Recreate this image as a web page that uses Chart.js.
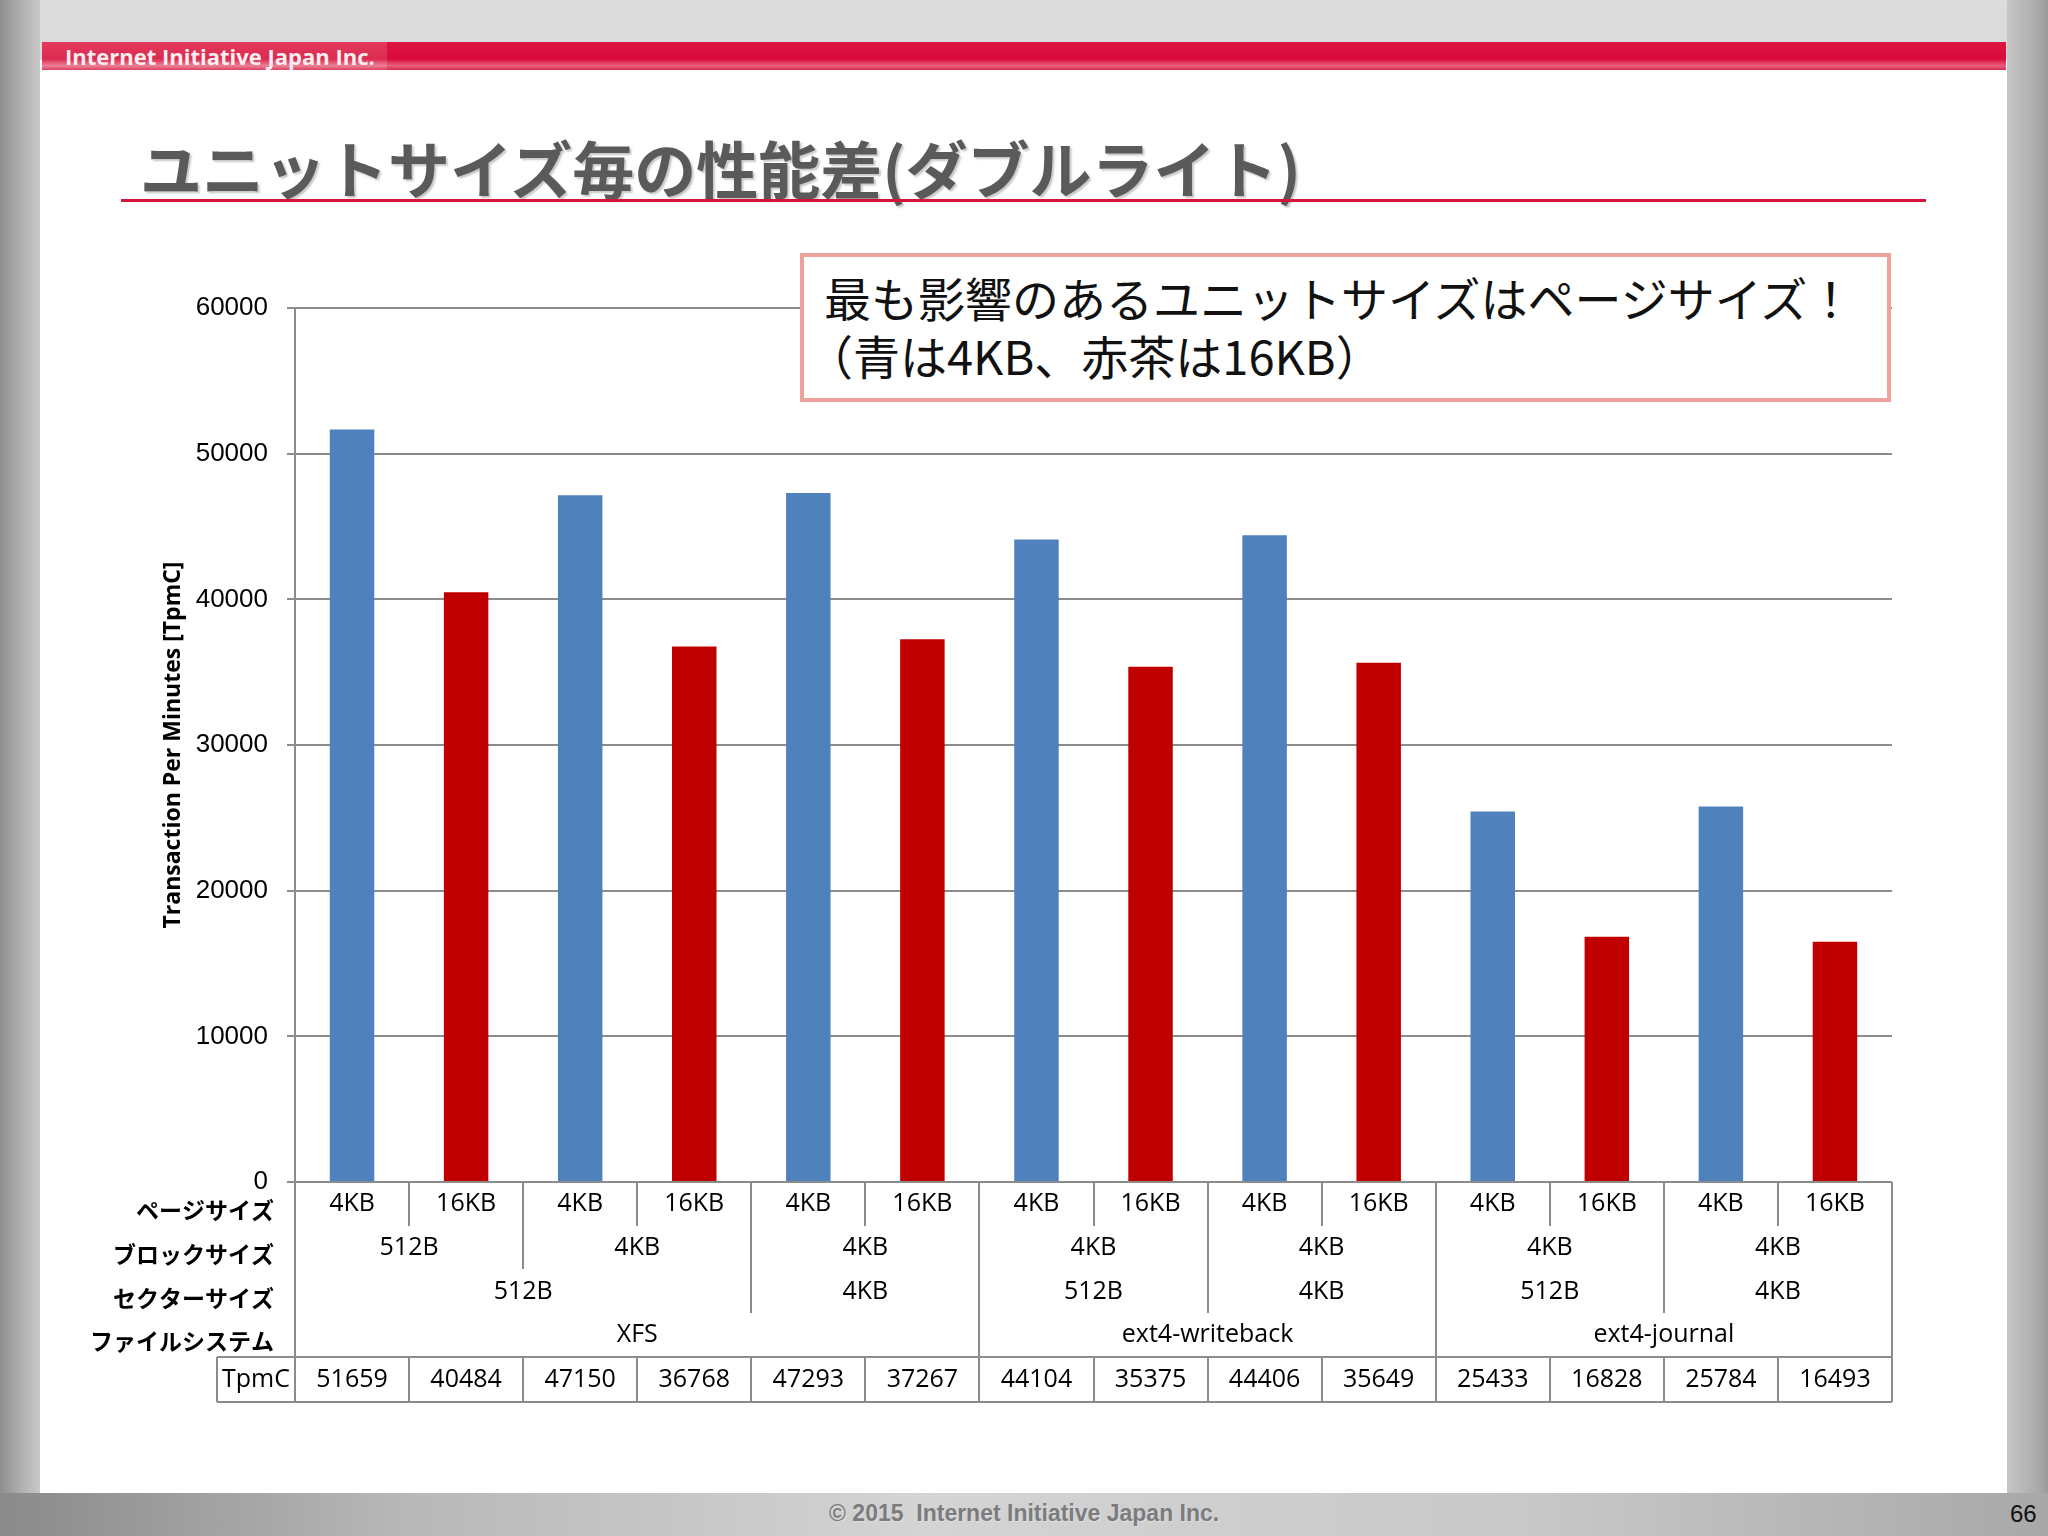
<!DOCTYPE html>
<html>
<head>
<meta charset="utf-8">
<script src="https://cdn.jsdelivr.net/npm/chart.js@4.4.1/dist/chart.umd.min.js"></script>
<style>
  html, body { margin: 0; padding: 0; }
  body {
    width: 2048px; height: 1536px; position: relative; overflow: hidden;
    background: linear-gradient(180deg, #dcdcdc 0%, #cfcfcf 40%, #c4c4c4 100%);
    font-family: "Noto Sans CJK JP", sans-serif;
  }
  #leftBand { position: absolute; left: 0; top: 0; width: 40px; height: 1536px;
    background: linear-gradient(90deg, #8e8e8e 0%, #b4b4b4 60%, #c8c8c8 100%); }
  #rightBand { position: absolute; left: 2007px; top: 0; width: 41px; height: 1536px;
    background: linear-gradient(90deg, #c6c6c6 0%, #adadad 70%, #9a9a9a 100%); }
  #bottomBand { position: absolute; left: 0; top: 1493px; width: 2048px; height: 43px;
    background: linear-gradient(90deg, #8a8a8a 0%, #b8b8b8 20%, #d4d4d4 45%, #c8c8c8 75%, #a8a8a8 100%); }
  #slide { position: absolute; left: 40px; top: 60px; width: 1967px; height: 1433px; background: #fff; }
  #header { position: absolute; left: 42px; top: 42px; width: 1964px; height: 28px;
    background: linear-gradient(180deg, #dd1442 0%, #d90a3c 60%, #e8607c 85%, #d82a4c 100%); }
  #headerTag { position: absolute; left: 42px; top: 42px; width: 345px; height: 28px;
    background: linear-gradient(180deg, #e23a5c 0%, #dc2a50 60%, #ec8096 85%, #dc4060 100%); }
  #headerText { position: absolute; left: 65px; top: 42px; height: 28px; line-height: 28px;
    font-family: "Open Sans", sans-serif; font-weight: 700; font-size: 22px; color: #fbeef0; }
  #title { position: absolute; left: 140px; top: 127px; font-size: 62px; font-weight: 700;
    color: #5a5a5a; text-shadow: 2px 2px 2px #c8c8c8; line-height: 80px; white-space: nowrap; }
  #titleRule { position: absolute; left: 121px; top: 199px; width: 1805px; height: 3px; background: #d3153e; }
  #callout { position: absolute; left: 800px; top: 253px; width: 1083px; height: 141px;
    border: 4px solid #eba39b; background: #fff; z-index: 3; }
  #callout div { position: absolute; left: 20px; font-size: 47px; color: #111; white-space: nowrap; line-height: 58px; }
  #footer { position: absolute; left: 829px; top: 1500px; font-family: "Liberation Sans", sans-serif;
    font-size: 23px; font-weight: 700; color: #7c7c7c; text-shadow: 1px 1px 1px #e0e0e0; }
  #pageNo { position: absolute; left: 2010px; top: 1500px; font-family: "Liberation Sans", sans-serif;
    font-size: 24px; color: #111; }
  #chartWrap { position: absolute; left: 0; top: 0; width: 2048px; height: 1536px; z-index: 2; }
</style>
</head>
<body>
<div id="leftBand"></div>
<div id="rightBand"></div>
<div id="bottomBand"></div>
<div id="slide"></div>
<div id="header"></div>
<div id="headerTag"></div>
<div id="headerText">Internet Initiative Japan Inc.</div>
<div id="title">ユニットサイズ毎の性能差(ダブルライト)</div>
<div id="titleRule"></div>
<div id="callout">
  <div style="top: 11px;">最も影響のあるユニットサイズはページサイズ！</div>
  <div style="top: 69px; left: 2px;">（青は4KB、赤茶は16KB）</div>
</div>
<div id="chartWrap"><canvas id="chart" width="2048" height="1536"></canvas></div>
<div id="footer">© 2015&nbsp; Internet Initiative Japan Inc.</div>
<div id="pageNo">66</div>

<script>
const pageSizes = ['4KB', '16KB', '4KB', '16KB', '4KB', '16KB', '4KB', '16KB', '4KB', '16KB', '4KB', '16KB', '4KB', '16KB'];
const blockSizes = ['512B', '512B', '4KB', '4KB', '4KB', '4KB', '4KB', '4KB', '4KB', '4KB', '4KB', '4KB', '4KB', '4KB'];
const sectorSizes = ['512B', '512B', '512B', '512B', '4KB', '4KB', '512B', '512B', '4KB', '4KB', '512B', '512B', '4KB', '4KB'];
const fileSystems = ['XFS', 'XFS', 'XFS', 'XFS', 'XFS', 'XFS',
    'ext4-writeback', 'ext4-writeback', 'ext4-writeback', 'ext4-writeback',
    'ext4-journal', 'ext4-journal', 'ext4-journal', 'ext4-journal'];
const tpmc = [51659, 40484, 47150, 36768, 47293, 37267, 44104, 35375, 44406, 35649, 25433, 16828, 25784, 16493];
const yMax = 60000;
const yStep = 10000;

const blue = '#4f81bd';
const red = '#c00000';
const lineGray = '#8c8c8c';

// table rows under the plot (top row first)
const rows = [
    { label: 'ページサイズ', values: pageSizes, y: 1204, bottom: 1226 },
    { label: 'ブロックサイズ', values: blockSizes, y: 1248, bottom: 1269 },
    { label: 'セクターサイズ', values: sectorSizes, y: 1292, bottom: 1313 },
    { label: 'ファイルシステム', values: fileSystems, y: 1335, bottom: 1357 }
];
const tpmcTop = 1357, tpmcBottom = 1402, tpmcLeft = 217;

function keyAt(level, i){
    let k = [];
    for(let r = level; r < rows.length; r++) k.push(rows[r].values[i]);
    return k.join('|');
}

const tablePlugin = {
    id: 'tablePlugin',
    afterDraw(chart){
        const ctx = chart.ctx;
        const x = chart.scales.x;
        const top = chart.chartArea.bottom;
        const n = tpmc.length;
        const left = x.getPixelForValue(-0.5);
        const right = x.getPixelForValue(n - 0.5);

        ctx.save();
        ctx.strokeStyle = lineGray;
        ctx.lineWidth = 2;
        ctx.beginPath();
        // outer edges
        ctx.moveTo(left, top); ctx.lineTo(left, tpmcBottom);
        ctx.moveTo(right, top); ctx.lineTo(right, tpmcBottom);
        ctx.moveTo(tpmcLeft, tpmcTop); ctx.lineTo(right, tpmcTop);
        ctx.moveTo(tpmcLeft, tpmcBottom); ctx.lineTo(right, tpmcBottom);
        ctx.moveTo(tpmcLeft, tpmcTop); ctx.lineTo(tpmcLeft, tpmcBottom);
        // separators between categories
        for(let i = 0; i < n - 1; i++){
            const bx = Math.round(x.getPixelForValue(i + 0.5));
            let depth = 0;
            for(let r = 0; r < rows.length; r++){
                if(keyAt(r, i) !== keyAt(r, i + 1)) depth = r;
            }
            ctx.moveTo(bx, top); ctx.lineTo(bx, rows[depth].bottom);
            ctx.moveTo(bx, tpmcTop); ctx.lineTo(bx, tpmcBottom);
        }
        ctx.stroke();

        // row labels
        ctx.fillStyle = '#000';
        ctx.textAlign = 'right';
        ctx.textBaseline = 'middle';
        ctx.font = 'bold 23px "Noto Sans CJK JP"';
        rows.forEach(r => ctx.fillText(r.label, 274, r.y + 6));

        // grouped cell texts
        ctx.textAlign = 'center';
        ctx.font = '25px "Open Sans"';
        rows.forEach((r, level) => {
            let start = 0;
            for(let i = 1; i <= n; i++){
                if(i === n || keyAt(level, i) !== keyAt(level, start)){
                    const cx = (x.getPixelForValue(start - 0.5) + x.getPixelForValue(i - 0.5)) / 2;
                    ctx.fillText(r.values[start], cx, r.y);
                    start = i;
                }
            }
        });

        // TpmC row
        const rowY = (tpmcTop + tpmcBottom) / 2;
        ctx.fillText('TpmC', (tpmcLeft + left) / 2, rowY);
        tpmc.forEach((v, i) => ctx.fillText(String(v), x.getPixelForValue(i), rowY));
        ctx.restore();
    }
};

const ctx = document.getElementById('chart').getContext('2d');
new Chart(ctx, {
    type: 'bar',
    data: {
        labels: pageSizes,
        datasets: [{
            data: tpmc,
            backgroundColor: pageSizes.map(p => p === '4KB' ? blue : red),
            borderWidth: 0,
            categoryPercentage: 1,
            barPercentage: 0.39
        }]
    },
    options: {
        responsive: false,
        devicePixelRatio: 1,
        animation: false,
        layout: { padding: { left: 154, top: 308, right: 156, bottom: 354 } },
        plugins: { legend: { display: false }, tooltip: { enabled: false } },
        scales: {
            x: { display: false },
            y: {
                min: 0, max: yMax,
                afterFit: s => { s.width = 141; },
                ticks: {
                    stepSize: yStep, padding: 19, color: '#000',
                    font: { family: 'Liberation Sans', size: 26 },
                    callback: v => String(v)
                },
                grid: { color: lineGray, lineWidth: 2, drawTicks: true, tickLength: 8 },
                border: { display: true, color: lineGray, width: 2 },
                title: {
                    display: true, text: 'Transaction Per Minutes [TpmC]', color: '#000',
                    padding: { top: 6, bottom: 4 },
                    font: { family: 'Open Sans', size: 23, weight: 'bold' }
                }
            }
        }
    },
    plugins: [tablePlugin]
});
</script>
</body>
</html>
